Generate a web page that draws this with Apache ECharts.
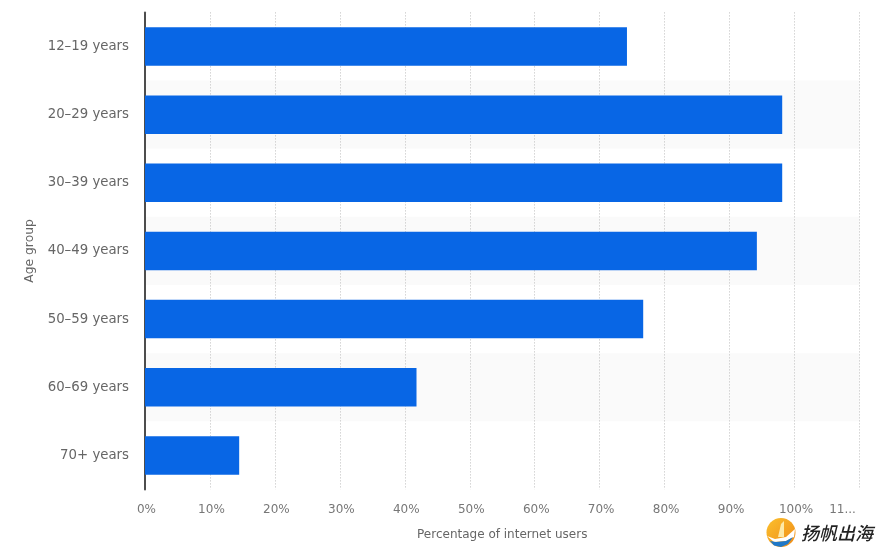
<!DOCTYPE html>
<html>
<head>
<meta charset="utf-8">
<style>
html, body { margin: 0; padding: 0; background: #fff; }
#chart { width: 884px; height: 552px; }
</style>
<script src="https://cdn.jsdelivr.net/npm/echarts@6/dist/echarts.min.js"></script>
</head>
<body>
<div id="chart"></div>
<script>
var ageGroups = ['12–19 years', '20–29 years', '30–39 years', '40–49 years', '50–59 years', '60–69 years', '70+ years'];
var userShare = [74.2, 98.1, 98.1, 94.2, 76.7, 41.8, 14.5];
var tickLabels = ['0%', '10%', '20%', '30%', '40%', '50%', '60%', '70%', '80%', '90%', '100%', '11...'];

var textColor = '#666666';
var fontName = '"DejaVu Sans", sans-serif';

var myChart = echarts.init(document.getElementById('chart'), null, { renderer: 'canvas' });

var option = {
	animation: false,
	grid: { left: 145, right: 24.5, top: 12.4, bottom: 62.5 },
	xAxis: {
		type: 'value',
		min: 0,
		max: 110,
		interval: 10,
		name: 'Percentage of internet users',
		nameLocation: 'middle',
		nameGap: 39,
		nameTextStyle: { color: textColor, fontSize: 12, fontFamily: fontName },
		axisLine: { show: false },
		axisTick: { show: false },
		axisLabel: {
			color: '#777777',
			fontSize: 12,
			fontFamily: fontName,
			margin: 14,
			hideOverlap: false,
			showMinLabel: true,
			showMaxLabel: true,
			formatter: function(value) {
				var label = tickLabels[Math.round(value / 10)];
				// the last label is cut short and sits left of its gridline
				if (value === 110) return '{last|' + label + '}';
				return '{tick|' + label + '}';
			},
			rich: {
				tick: { color: '#777777', fontSize: 12, fontFamily: fontName, padding: [0, 0, 0, 3] },
				last: { color: '#777777', fontSize: 12, fontFamily: fontName, padding: [0, 34, 0, 0] }
			}
		},
		splitLine: {
			show: true,
			lineStyle: { color: '#bdbdbd', type: [1, 2], width: 1 }
		}
	},
	yAxis: {
		type: 'category',
		inverse: true,
		data: ageGroups,
		name: 'Age group',
		nameLocation: 'middle',
		nameGap: 109,
		nameTextStyle: { color: textColor, fontSize: 12.3, fontFamily: fontName },
		axisLine: { show: true, lineStyle: { color: '#4d4d4d', width: 2 } },
		axisTick: { show: false },
		axisLabel: { color: textColor, fontSize: 13.3, fontFamily: fontName, margin: 16, padding: [4, 0, 0, 0] },
		splitLine: { show: false },
		splitArea: { show: true, areaStyle: { color: ['#ffffff', '#fafafa'] } }
	},
	series: [
		{
			type: 'bar',
			data: userShare,
			barWidth: 38.5,
			itemStyle: { color: '#0866e5' }
		}
	],
	// watermark in the bottom right corner
	graphic: [
		{
			type: 'circle',
			shape: { cx: 781, cy: 532.5, r: 14.5 },
			style: {
				fill: new echarts.graphic.LinearGradient(0, 0, 1, 1, [
					{ offset: 0, color: '#fbc02d' },
					{ offset: 1, color: '#ef8a17' }
				])
			}
		},
		{
			type: 'polygon',
			shape: { points: [[767, 536], [775, 539], [786, 537], [795, 529], [794, 537], [786, 541], [774, 542]] },
			style: { fill: '#ffffff' }
		},
		{
			type: 'polygon',
			shape: { points: [[770, 541], [776, 542], [786, 541], [793, 537], [788, 544], [781, 547], [774, 545.5]] },
			style: { fill: '#1f78c8' }
		},
		{
			type: 'polygon',
			shape: { points: [[778, 537], [781, 524], [784, 521], [784, 537]] },
			style: { fill: '#fde9a8' }
		},
		{
			type: 'text',
			style: {
				x: 801,
				y: 533,
				text: '扬帆出海',
				fill: '#222222',
				font: 'italic 500 18px "Noto Sans CJK SC"',
				textVerticalAlign: 'middle'
			}
		}
	]
};

myChart.setOption(option);
</script>
</body>
</html>
